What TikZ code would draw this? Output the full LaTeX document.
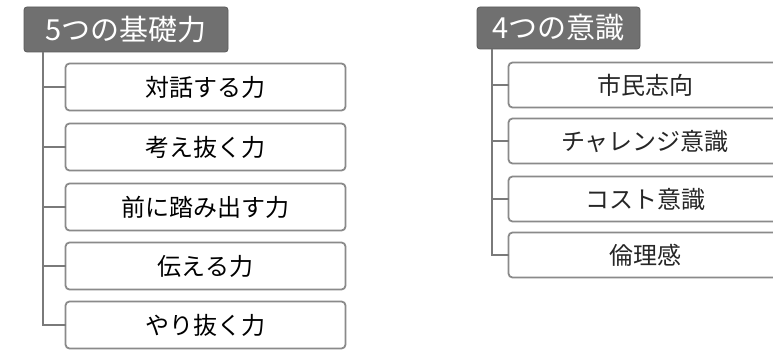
\documentclass[tikz,border=0pt]{standalone}
\usepackage{fontspec}
\newfontfamily\jp{Noto Sans CJK JP}
\definecolor{hdrfill}{HTML}{707070}
\definecolor{boxline}{HTML}{8A8A8A}
\definecolor{treeline}{HTML}{7A7A7A}
\tikzset{
  hdr/.style={draw=hdrfill!80!black, line width=0.8pt, fill=hdrfill, rounded corners=3pt, inner sep=0pt, outer sep=0pt, text=white, font=\jp\fontsize{29}{29}\selectfont},
  itembox/.style={draw=boxline, line width=1.8pt, fill=white, rounded corners=4pt, inner sep=0pt, outer sep=0pt, font=\jp\fontsize{24}{24}\selectfont, text=black},
  leftbox/.style={itembox, minimum width=280pt, minimum height=47pt},
  rightbox/.style={itembox, minimum width=273pt, minimum height=45pt, text=black!85},
  tree/.style={draw=treeline, line width=1.8pt}
}
\begin{document}
\begin{tikzpicture}[x=1pt,y=-1pt]
\useasboundingbox (0,0) rectangle (773,350);
\clip (0,0) rectangle (773,350);
\fill[white] (0,0) rectangle (773,350);
% left group
\node[hdr, minimum width=204pt, minimum height=45pt] (h1) at (126,29.5) {5つの基礎力};
\node[leftbox] (b1) at (205.5,87) {対話する力};
\node[leftbox] (b2) at (205.5,147) {考え抜く力};
\node[leftbox] (b3) at (205.5,207) {前に踏み出す力};
\node[leftbox] (b4) at (205.5,266) {伝える力};
\node[leftbox] (b5) at (205.5,325) {やり抜く力};
\coordinate (tl) at (43,52);
\draw[tree] (tl) |- (b5.west);
\foreach \b in {b1,b2,b3,b4}{\draw[tree] (tl |- \b.west) -- (\b.west);}
% right group
\node[hdr, minimum width=163pt, minimum height=42pt] (h2) at (558.5,28) {4つの意識};
\node[rightbox] (r1) at (645,85) {市民志向};
\node[rightbox] (r2) at (645,141) {チャレンジ意識};
\node[rightbox] (r3) at (645,199) {コスト意識};
\node[rightbox] (r4) at (645,255) {倫理感};
\coordinate (tr) at (492,49);
\draw[tree] (tr) |- (r4.west);
\foreach \b in {r1,r2,r3}{\draw[tree] (tr |- \b.west) -- (\b.west);}
\end{tikzpicture}
\end{document}
